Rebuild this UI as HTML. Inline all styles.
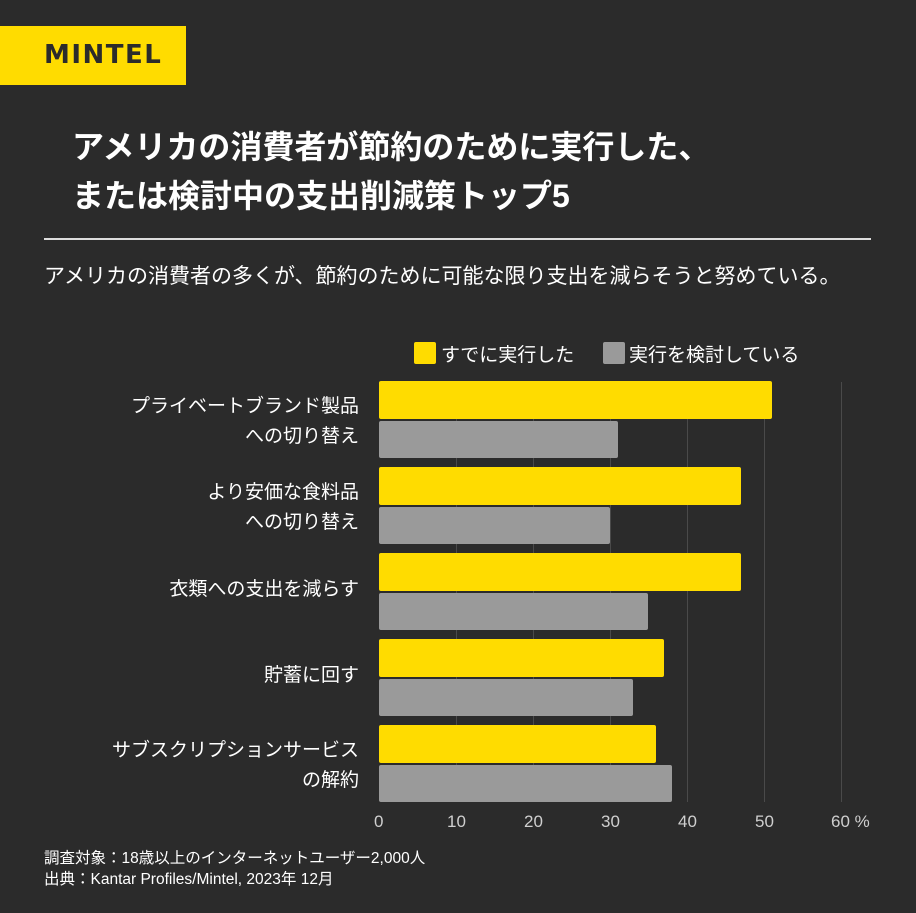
<!DOCTYPE html>
<html><head><meta charset="utf-8"><style>
html,body{margin:0;padding:0;}
body{width:916px;height:913px;background:#2b2b2b;position:relative;overflow:hidden;font-family:"Liberation Sans","Noto Sans CJK JP",sans-serif;color:#fff;}
.a{position:absolute;white-space:nowrap;}
.logo{left:0;top:26px;width:186px;height:59px;background:#ffdc00;}
.logo span{position:absolute;left:44px;top:14px;font-size:26px;font-weight:bold;color:#2b2b2b;letter-spacing:1.5px;font-family:"DejaVu Sans",sans-serif;}
.title{left:72px;font-size:32px;font-weight:bold;}
.y{background:#ffdc00;border-radius:2px;}
.g{background:#9a9a9a;border-radius:2px;}
.lab{font-size:19px;text-align:right;right:557px;line-height:30px;}
.grid{top:382px;height:420px;width:1px;background:#4a4a4a;}
.tick{top:812px;font-size:17px;color:#cfcfcf;}
</style></head><body>
<div class="a logo"><span>MINTEL</span></div>
<div class="a title" style="top:122px">アメリカの消費者が節約のために実行した、</div>
<div class="a title" style="top:171px">または検討中の支出削減策トップ5</div>
<div class="a" style="left:44px;top:238px;width:827px;height:2px;background:#ddd"></div>
<div class="a" style="left:44px;top:260px;font-size:21px">アメリカの消費者の多くが、節約のために可能な限り支出を減らそうと努めている。</div>
<div class="a y" style="left:414px;top:342px;width:22px;height:22px"></div>
<div class="a" style="left:441px;top:340px;font-size:19px">すでに実行した</div>
<div class="a g" style="left:603px;top:342px;width:22px;height:22px"></div>
<div class="a" style="left:629px;top:340px;font-size:19px">実行を検討している</div>
<div class="a grid" style="left:456px"></div>
<div class="a grid" style="left:533px"></div>
<div class="a grid" style="left:610px"></div>
<div class="a grid" style="left:687px"></div>
<div class="a grid" style="left:764px"></div>
<div class="a grid" style="left:841px"></div>
<div class="a y" style="left:379px;top:381px;width:393px;height:38px"></div>
<div class="a g" style="left:379px;top:421px;width:239px;height:37px"></div>
<div class="a y" style="left:379px;top:467px;width:362px;height:38px"></div>
<div class="a g" style="left:379px;top:507px;width:231px;height:37px"></div>
<div class="a y" style="left:379px;top:553px;width:362px;height:38px"></div>
<div class="a g" style="left:379px;top:593px;width:269px;height:37px"></div>
<div class="a y" style="left:379px;top:639px;width:285px;height:38px"></div>
<div class="a g" style="left:379px;top:679px;width:254px;height:37px"></div>
<div class="a y" style="left:379px;top:725px;width:277px;height:38px"></div>
<div class="a g" style="left:379px;top:765px;width:293px;height:37px"></div>
<div class="a lab" style="top:392px">プライベートブランド製品<br>への切り替え</div>
<div class="a lab" style="top:478px">より安価な食料品<br>への切り替え</div>
<div class="a lab" style="top:575px">衣類への支出を減らす</div>
<div class="a lab" style="top:661px">貯蓄に回す</div>
<div class="a lab" style="top:736px">サブスクリプションサービス<br>の解約</div>
<div class="a tick" style="left:374px">0</div>
<div class="a tick" style="left:447px">10</div>
<div class="a tick" style="left:524px">20</div>
<div class="a tick" style="left:601px">30</div>
<div class="a tick" style="left:678px">40</div>
<div class="a tick" style="left:755px">50</div>
<div class="a tick" style="left:831px">60 %</div>
<div class="a" style="left:44px;top:846px;font-size:15.5px">調査対象：18歳以上のインターネットユーザー2,000人</div>
<div class="a" style="left:44px;top:867px;font-size:15.5px">出典：Kantar Profiles/Mintel, 2023年 12月</div>
</body></html>
